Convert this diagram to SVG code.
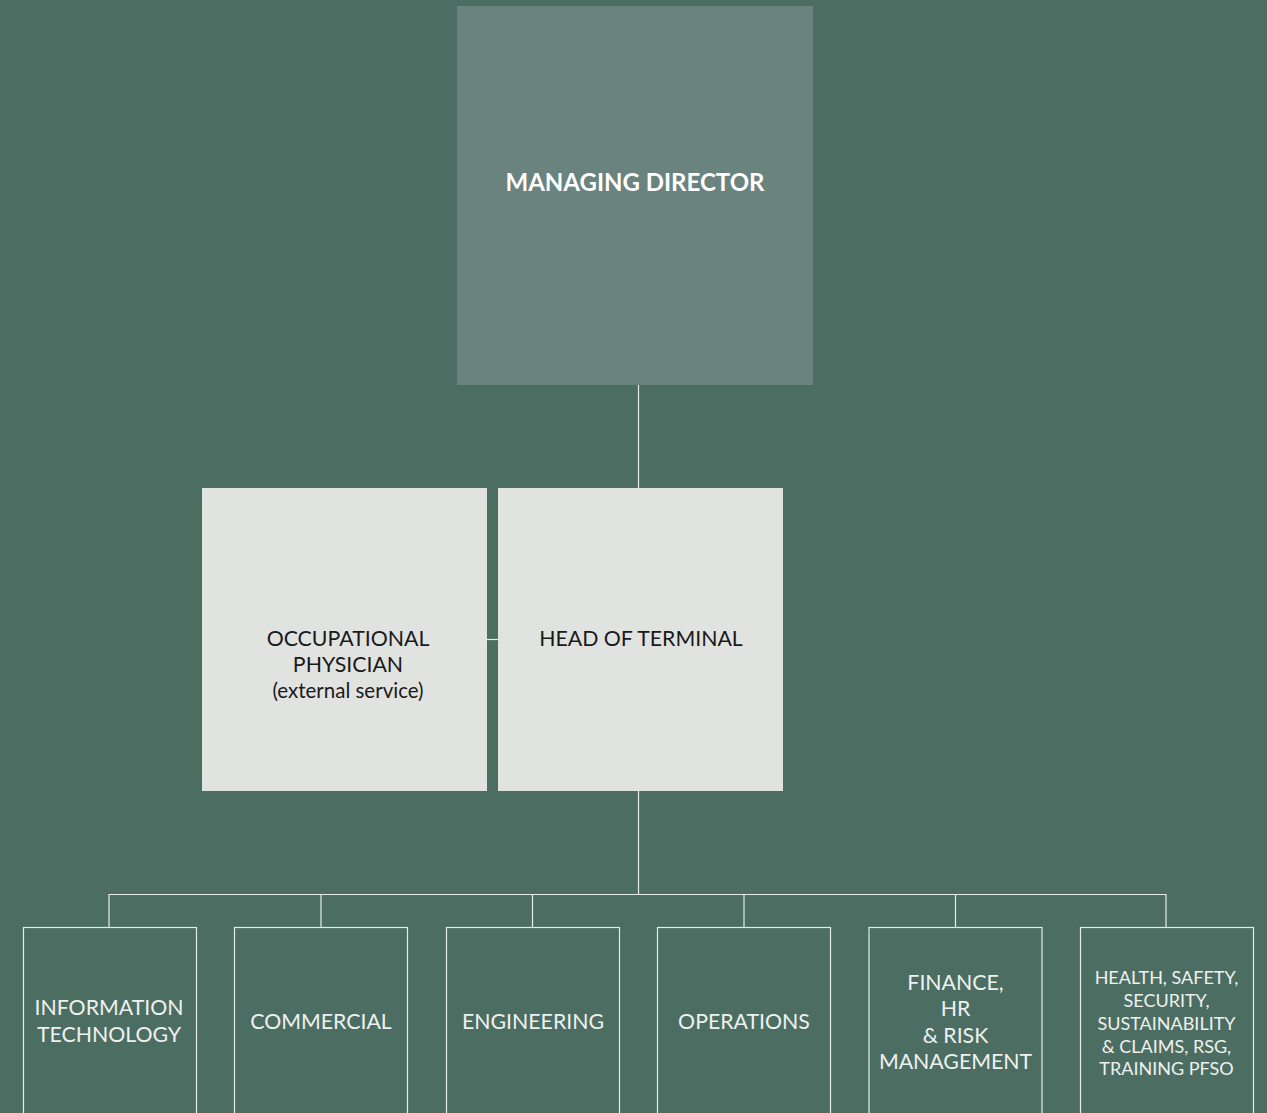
<svg xmlns="http://www.w3.org/2000/svg" width="1267" height="1113" viewBox="0 0 1267 1113">
<style>
.bg{fill:#4c6e62}
.top{fill:#6a837f}
.mid{fill:#e1e3e1}
.dept{fill:none;stroke:#e6ebe8;stroke-width:1.2}
.ln{fill:none;stroke:#e6ebe8;stroke-width:1.2}
text{font-family:Lato,"Open Sans","Liberation Sans",sans-serif;text-anchor:middle}
.t1{font-size:24px;font-weight:bold;fill:#ffffff}
.t2{font-size:21.3px;fill:#1a1a1a}
.t2s{font-size:20.5px;fill:#1a1a1a}
.t3{font-size:21.3px;fill:#eef1ef}
.t3s{font-size:18px;fill:#eef1ef}
</style>
<rect class="bg" x="0" y="0" width="1267" height="1113"/>
<g id="connectors">
<line class="ln" x1="638.5" y1="385" x2="638.5" y2="488"/>
<line class="ln" x1="487" y1="639.5" x2="498" y2="639.5"/>
<line class="ln" x1="638.5" y1="791" x2="638.5" y2="894.5"/>
<polyline class="ln" points="109,927 109,894.5 1166,894.5 1166,927"/>
<line class="ln" x1="321" y1="894.5" x2="321" y2="927"/>
<line class="ln" x1="532.5" y1="894.5" x2="532.5" y2="927"/>
<line class="ln" x1="744" y1="894.5" x2="744" y2="927"/>
<line class="ln" x1="955.5" y1="894.5" x2="955.5" y2="927"/>
</g>
<g id="managing-director">
<rect class="top" x="457" y="6" width="356" height="379"/>
<text class="t1" x="635" y="190.5">MANAGING DIRECTOR</text>
</g>
<g id="occupational-physician">
<rect class="mid" x="202" y="488" width="285" height="303"/>
<text class="t2" x="348" y="645.5">OCCUPATIONAL</text>
<text class="t2" x="348" y="671.5">PHYSICIAN</text>
<text class="t2s" x="348" y="697.5">(external service)</text>
</g>
<g id="head-of-terminal">
<rect class="mid" x="498" y="488" width="285" height="303"/>
<text class="t2" x="641" y="645.5">HEAD OF TERMINAL</text>
</g>
<g id="information-technology">
<rect class="dept" x="23.5" y="927.5" width="173" height="200"/>
<text class="t3" x="109" y="1015">INFORMATION</text>
<text class="t3" x="109" y="1041.5">TECHNOLOGY</text>
</g>
<g id="commercial">
<rect class="dept" x="234.5" y="927.5" width="173" height="200"/>
<text class="t3" x="321" y="1029">COMMERCIAL</text>
</g>
<g id="engineering">
<rect class="dept" x="446.5" y="927.5" width="173" height="200"/>
<text class="t3" x="533" y="1029">ENGINEERING</text>
</g>
<g id="operations">
<rect class="dept" x="657.5" y="927.5" width="173" height="200"/>
<text class="t3" x="744" y="1029">OPERATIONS</text>
</g>
<g id="finance-hr-risk">
<rect class="dept" x="869" y="927.5" width="173" height="200"/>
<text class="t3" x="955.5" y="989.5">FINANCE,</text>
<text class="t3" x="955.5" y="1016">HR</text>
<text class="t3" x="955.5" y="1042.5">&amp; RISK</text>
<text class="t3" x="955.5" y="1069">MANAGEMENT</text>
</g>
<g id="hsse">
<rect class="dept" x="1080.5" y="927.5" width="173" height="200"/>
<text class="t3s" x="1166.5" y="984">HEALTH, SAFETY,</text>
<text class="t3s" x="1166.5" y="1007">SECURITY,</text>
<text class="t3s" x="1166.5" y="1029.5">SUSTAINABILITY</text>
<text class="t3s" x="1166.5" y="1052.5">&amp; CLAIMS, RSG,</text>
<text class="t3s" x="1166.5" y="1074.5">TRAINING PFSO</text>
</g>
</svg>
